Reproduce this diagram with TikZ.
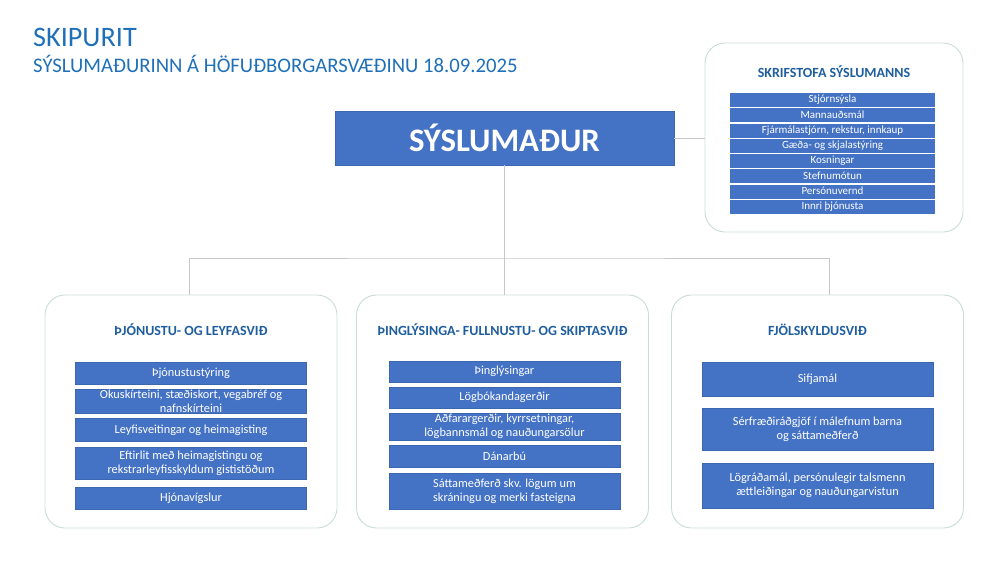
\documentclass[tikz,border=0pt]{standalone}
\usepackage{fontspec}
\setmainfont{Carlito}
\usetikzlibrary{positioning}

\definecolor{titleblue}{HTML}{1F70B8}
\definecolor{headblue}{HTML}{1F5E9E}
\definecolor{barblue}{HTML}{4472C4}
\definecolor{barline}{HTML}{3C66B0}
\definecolor{framecol}{HTML}{C8DCDA}
\definecolor{wirecol}{HTML}{C8C8C8}

\tikzset{
  unitbar/.style={draw=barline, fill=barblue, text=white, align=center,
    inner sep=0pt, minimum width=231pt, font=\fontsize{12.3}{14}\selectfont},
  skbar/.style={fill=barblue, text=white, inner sep=0pt, minimum width=205pt,
    minimum height=14.2pt, text height=7.9pt, text depth=2.5pt,
    font=\fontsize{11}{12}\selectfont},
  deild/.style={draw=framecol, line width=0.9pt, rounded corners=20pt,
    minimum width=292pt, minimum height=233pt, inner sep=0pt},
  heading/.style={text=headblue, font=\fontsize{14}{16}\selectfont\bfseries},
  wire/.style={draw=wirecol, line width=0.8pt}
}

\begin{document}
\begin{tikzpicture}[x=1pt, y=-1pt]
  \useasboundingbox (0,0) rectangle (1000,562);

  % titill
  \node[anchor=base west, inner sep=0pt, text=titleblue,
    font=\fontsize{28.2}{30}\selectfont] (titill) at (33,46) {SKIPURIT};
  \node[anchor=base west, inner sep=0pt, text=titleblue,
    font=\fontsize{20.7}{22}\selectfont] (undirtitill) at (33,72)
    {SÝSLUMAÐURINN Á HÖFUÐBORGARSVÆÐINU 18.09.2025};

  % sýslumaður
  \node[fill=barblue, draw=barline, text=white, minimum width=339pt,
    minimum height=54pt, inner sep=0pt,
    font=\fontsize{32.8}{34}\selectfont\bfseries] (syslu) at (504.5,138) {SÝSLUMAÐUR};

  % skrifstofa sýslumanns
  \node[deild, minimum width=258pt, minimum height=189pt] (skrif) at (834,137.5) {};
  \node[heading] (skrifhaus) at (834,72) {SKRIFSTOFA SÝSLUMANNS};
  \foreach \t [count=\i] in {Stjórnsýsla, Mannauðsmál,
      {Fjármálastjórn, rekstur, innkaup}, Gæða- og skjalastýring, Kosningar,
      Stefnumótun, Persónuvernd, Innri þjónusta}
    \node[skbar] (sk\i) at (832.5,{100.1+(\i-1)*15.25}) {\t};

  % sviðin þrjú
  \node[deild] (thjon) at (191,411.5) {};
  \node[deild] (thingl) at (502.5,411.5) {};
  \node[deild] (fjolsk) at (817.5,411.5) {};

  \node[heading] (thjonhaus) at (191,330) {ÞJÓNUSTU- OG LEYFASVIÐ};
  \node[heading] (thinglhaus) at (502.5,330) {ÞINGLÝSINGA- FULLNUSTU- OG SKIPTASVIÐ};
  \node[heading] (fjolskhaus) at (817.5,330) {FJÖLSKYLDUSVIÐ};

  % þjónustu- og leyfasvið
  \node[unitbar, minimum height=22pt] (t1) at (191,373) {Þjónustustýring};
  \node[unitbar, minimum height=24pt] (t2) at (191,401)
    {Okuskírteini, stæðiskort, vegabréf og\\nafnskírteini};
  \node[unitbar, minimum height=23pt] (t3) at (191,430) {Leyfisveitingar og heimagisting};
  \node[unitbar, minimum height=32pt] (t4) at (191,463)
    {Eftirlit með heimagistingu og\\rekstrarleyfisskyldum gististöðum};
  \node[unitbar, minimum height=22pt] (t5) at (191,498) {Hjónavígslur};

  % þinglýsinga-, fullnustu- og skiptasvið
  \node[unitbar, minimum height=21pt] (p1) at (504.5,371.5) {Þinglýsingar};
  \node[unitbar, minimum height=21pt] (p2) at (504.5,397.5) {Lögbókandagerðir};
  \node[unitbar, minimum height=27pt] (p3) at (504.5,426.5)
    {Aðfarargerðir, kyrrsetningar,\\lögbannsmál og nauðungarsölur};
  \node[unitbar, minimum height=22pt] (p4) at (504.5,456) {Dánarbú};
  \node[unitbar, minimum height=36pt] (p5) at (504.5,491)
    {Sáttameðferð skv. lögum um\\skráningu og merki fasteigna};

  % fjölskyldusvið
  \node[unitbar, minimum height=34pt] (f1) at (817.5,379) {Sifjamál};
  \node[unitbar, minimum height=42pt] (f2) at (817.5,429)
    {Sérfræðiráðgjöf í málefnum barna\\og sáttameðferð};
  \node[unitbar, minimum height=45pt] (f3) at (817.5,485.5)
    {Lögráðamál, persónulegir talsmenn\\ættleiðingar og nauðungarvistun};

  % tengilínur
  \coordinate (bus) at (504,258);
  \draw[wire] (syslu.south) -- (syslu.south |- thingl.north);
  \draw[wire] ([xshift=-2pt]thjon.north) |- (bus) -| ([xshift=12pt]fjolsk.north);
  \draw[wire] (syslu.east) -- (syslu.east -| skrif.west);
\end{tikzpicture}
\end{document}
